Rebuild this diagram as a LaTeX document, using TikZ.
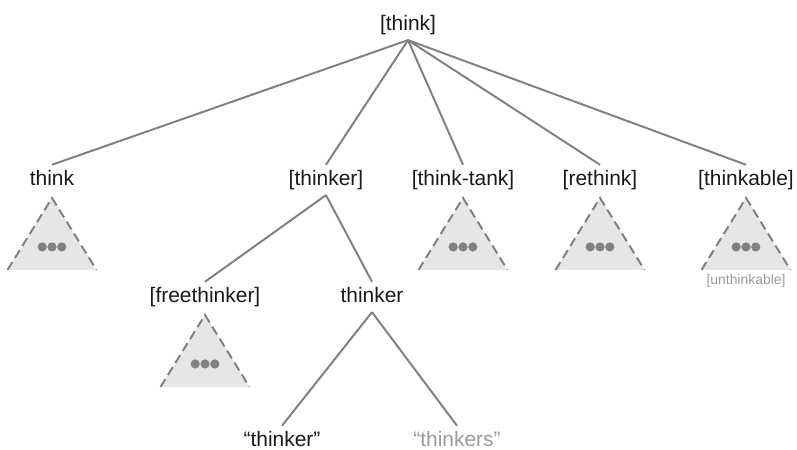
\documentclass[tikz,border=0pt]{standalone}
\usepackage{fontspec}
\setmainfont{Liberation Sans}
\usetikzlibrary{positioning}

\definecolor{edgeGray}{HTML}{808080}
\definecolor{fillGray}{HTML}{E6E6E6}
\definecolor{textGray}{HTML}{9A9A9A}

\tikzset{
    word/.style={anchor=base, inner ysep=7pt, text height=0.72em, text depth=0pt,
        font=\fontsize{14.9}{18}\selectfont, text=black!90},
    edge/.style={edgeGray, line width=1.4pt},
    subtree/.pic={
        \fill[fillGray] (0,0) -- (-44.5,72) -- (44.5,72) -- cycle;
        \draw[edgeGray, line width=1.4pt, dash pattern=on 6.5pt off 3.5pt]
            (-44.5,72) -- (0,0) -- (44.5,72);
        \foreach \dx in {-9.8,0,9.8}
            \fill[edgeGray] (\dx,49) circle[radius=0.115cm];
    }
}

\begin{document}
\begin{tikzpicture}[x=0.025cm, y=-0.025cm]
    \useasboundingbox (0,0) rectangle (797,449);

    \node[word] (root) at (408,30) {[think]};
    \node[word] (think) at (52,185) {think};
    \node[word] (thinkerSet) at (326,185) {[thinker]};
    \node[word] (thinkTank) at (463,185) {[think-tank]};
    \node[word] (rethink) at (600,185) {[rethink]};
    \node[word] (thinkable) at (746,185) {[thinkable]};
    \node[word] (freethinker) at (205,302) {[freethinker]};
    \node[word] (thinker) at (372,302) {thinker};
    \node[word] (formSingular) at (282,446) {“thinker”};
    \node[word, text=textGray] (formPlural) at (457,446) {“thinkers”};
    \node[word, inner ysep=2pt, font=\fontsize{9.9}{12}\selectfont, text=textGray]
        (unthinkable) at (746,284) {[unthinkable]};

    \pic at ([yshift=-2pt]think.south) {subtree};
    \pic at ([yshift=-2pt]thinkTank.south) {subtree};
    \pic at ([yshift=-2pt]rethink.south) {subtree};
    \pic at ([yshift=-2pt]thinkable.south) {subtree};
    \pic at ([yshift=-2pt]freethinker.south) {subtree};

\draw[edge] (root.south) -- (think.north);
\draw[edge] (root.south) -- (thinkerSet.north);
\draw[edge] (root.south) -- (thinkTank.north);
\draw[edge] (root.south) -- (rethink.north);
\draw[edge] (root.south) -- (thinkable.north);
\draw[edge] (thinkerSet.south) -- (freethinker.north);
\draw[edge] (thinkerSet.south) -- (thinker.north);
\draw[edge] (thinker.south) -- (formSingular.north);
\draw[edge] (thinker.south) -- (formPlural.north);

\end{tikzpicture}
\end{document}
